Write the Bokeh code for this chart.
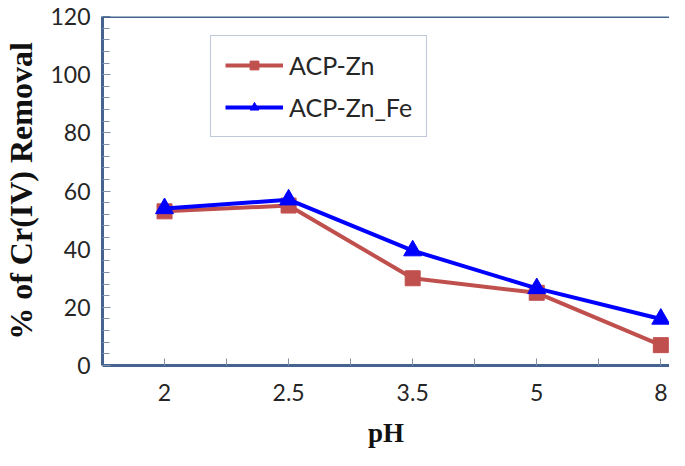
from bokeh.plotting import figure
from bokeh.models import Range1d, FixedTicker, SingleIntervalTicker, Span, Legend, LegendItem
from bokeh.embed import file_html
from bokeh.resources import INLINE

# ---- data ----
categories = ["2", "2.5", "3.5", "5", "8"]
acp_zn = [53, 55, 30, 25, 7]
acp_zn_fe = [54, 57, 39.5, 26.5, 16]
series_names = ["ACP-Zn", "ACP-Zn_Fe"]
y_max = 120
y_interval = 20

x_idx = list(range(len(categories)))

AXIS_COLOR = "#44648f"
TICK_COLOR = "#8391a8"
RED = "#C0504D"
BLUE = "#0000FF"

p = figure(width=669, height=450,
           x_range=Range1d(-0.5, len(categories) - 0.93),
           y_range=Range1d(0, y_max),
           output_backend="svg", toolbar_location=None,
           min_border_top=16, min_border_left=99, min_border_right=0, min_border_bottom=0)

p.background_fill_color = "white"
p.border_fill_color = "white"
p.outline_line_color = None
p.xgrid.grid_line_color = None
p.ygrid.grid_line_color = None

# top border line
p.add_layout(Span(location=y_max, dimension="width", line_color=AXIS_COLOR, line_width=3))

r1 = p.line(x_idx, acp_zn, line_color=RED, line_width=4)
m1 = p.scatter(x_idx, acp_zn, marker="square", size=15, fill_color=RED, line_color=RED)
r2 = p.line(x_idx, acp_zn_fe, line_color=BLUE, line_width=4)
m2 = p.scatter(x_idx, acp_zn_fe, marker="triangle", size=18, fill_color=BLUE, line_color=BLUE)

legend = Legend(items=[LegendItem(label=series_names[0], renderers=[r1, m1]),
                       LegendItem(label=series_names[1], renderers=[r2, m2])],
                location=(108, 228))
legend.label_text_font = "Lato"
legend.label_text_font_size = "25px"
legend.label_text_color = "#262626"
legend.glyph_width = 58
legend.glyph_height = 22
legend.label_standoff = 6
legend.padding = 14
legend.spacing = 12
legend.margin = 0
legend.border_line_color = "#7f94b5"
legend.border_line_width = 1.5
legend.background_fill_alpha = 1
p.add_layout(legend, "center")

# x axis
xa = p.xaxis[0]
xa.ticker = FixedTicker(ticks=x_idx, minor_ticks=[i + 0.5 for i in x_idx[:-1]])
xa.major_label_overrides = {i: c for i, c in zip(x_idx, categories)}
xa.axis_line_color = AXIS_COLOR
xa.axis_line_width = 3
xa.major_tick_in = 7
xa.major_tick_out = 0
xa.minor_tick_in = 7
xa.minor_tick_out = 0
xa.major_tick_line_color = TICK_COLOR
xa.minor_tick_line_color = TICK_COLOR
xa.major_label_text_font = "Lato"
xa.major_label_text_font_size = "23px"
xa.major_label_text_color = "#262626"
xa.major_label_standoff = 18
xa.axis_label = "pH"
xa.axis_label_text_font = "Liberation Serif"
xa.axis_label_text_font_style = "bold"
xa.axis_label_text_font_size = "27px"
xa.axis_label_text_color = "#111111"
xa.axis_label_standoff = 14

# y axis
ya = p.yaxis[0]
ya.ticker = SingleIntervalTicker(interval=y_interval, num_minor_ticks=5)
ya.axis_line_color = AXIS_COLOR
ya.axis_line_width = 3
ya.major_tick_in = 8
ya.major_tick_out = 0
ya.minor_tick_in = 7
ya.minor_tick_out = 0
ya.major_tick_line_color = TICK_COLOR
ya.minor_tick_line_color = TICK_COLOR
ya.major_label_text_font = "Lato"
ya.major_label_text_font_size = "23px"
ya.major_label_text_color = "#262626"
ya.major_label_standoff = 12
ya.axis_label = "% of Cr(IV) Removal"
ya.axis_label_text_font = "Liberation Serif"
ya.axis_label_text_font_style = "bold"
ya.axis_label_text_font_size = "32px"
ya.axis_label_text_color = "#111111"
ya.axis_label_standoff = 8

open("out.html", "w").write(file_html(p, INLINE))
